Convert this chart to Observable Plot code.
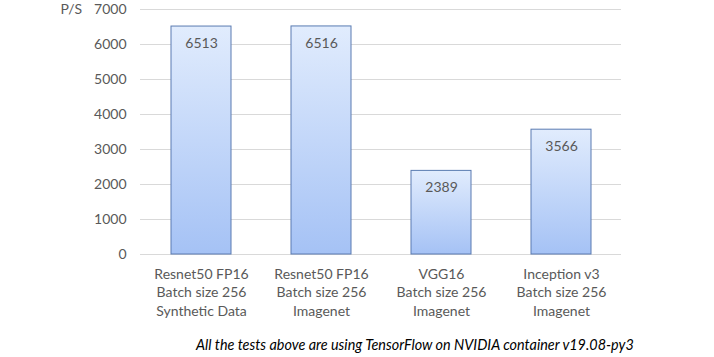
<!DOCTYPE html>
<html>
<head>
<meta charset="utf-8">
<script src="https://cdn.jsdelivr.net/npm/d3@7"></script>
<script src="https://cdn.jsdelivr.net/npm/@observablehq/plot@0.6"></script>
<style>
  body { margin: 0; background: #fff; }
  #chart { width: 714px; }
  .caption { font-family: Lato, sans-serif; font-style: italic; font-size: 14.4px; color: #000; padding-left: 196px; margin-top: 6px; }
</style>
</head>
<body>
<div id="chart"></div>
<script>
const categories = [
  "Resnet50 FP16\nBatch size 256\nSynthetic Data",
  "Resnet50 FP16\nBatch size 256\nImagenet",
  "VGG16\nBatch size 256\nImagenet",
  "Inception v3\nBatch size 256\nImagenet"
];
const values = [6513, 6516, 2389, 3566];
const yTicks = [0, 1000, 2000, 3000, 4000, 5000, 6000, 7000];
const yLabel = "P/S";
const captionText = "All the tests above are using TensorFlow on NVIDIA container v19.08-py3";

const data = categories.map((c, i) => ({cat: c, value: values[i]}));

const defs = () => {
  const ns = "http://www.w3.org/2000/svg";
  const d = document.createElementNS(ns, "defs");
  d.innerHTML = `<linearGradient id="barGrad" x1="0" y1="0" x2="0" y2="1">
    <stop offset="0%" stop-color="#e1ecfd"/>
    <stop offset="100%" stop-color="#a5c2f5"/>
  </linearGradient>`;
  return d;
};

const plot = Plot.plot({
  width: 714,
  height: 330,
  marginLeft: 140,
  marginRight: 93,
  marginTop: 9,
  marginBottom: 76,
  style: {fontFamily: "Lato, sans-serif", fontSize: "14px", color: "#595959", background: "#fff"},
  x: {domain: categories, paddingInner: 0.5, paddingOuter: 0.25, label: null},
  y: {domain: [0, 7000], label: null},
  marks: [
    defs,
    Plot.ruleY(yTicks, {stroke: "#d9d9d9", strokeWidth: 1}),
    Plot.barY(data, {x: "cat", y: "value", fill: "url(#barGrad)", stroke: "#5a7bb1", strokeWidth: 1}),
    Plot.text(data, {x: "cat", y: "value", text: d => String(d.value), dy: 17, lineAnchor: "middle", fill: "#595959", fontSize: 14}),
    Plot.axisY({ticks: yTicks, tickSize: 0, tickPadding: 14, tickFormat: d => String(d), fill: "#595959", fontSize: 14, label: null}),
    Plot.axisX({tickSize: 0, tickPadding: 11, lineHeight: 1.32, fill: "#595959", fontSize: 14, label: null}),
    Plot.text([yLabel], {frameAnchor: "top-left", dx: -80, dy: 0, textAnchor: "start", lineAnchor: "middle", fill: "#595959", fontSize: 14})
  ]
});

document.getElementById("chart").appendChild(plot);
const cap = document.createElement("div");
cap.className = "caption";
cap.textContent = captionText;
document.getElementById("chart").appendChild(cap);
</script>
</body>
</html>
